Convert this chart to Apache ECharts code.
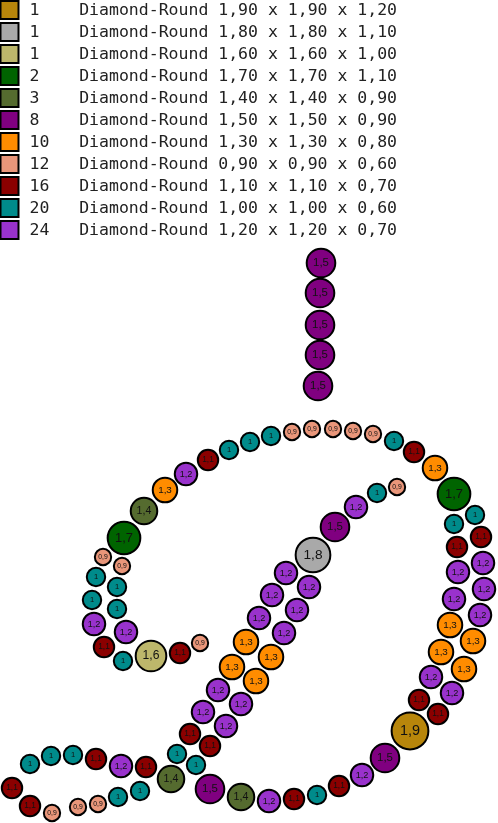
<!DOCTYPE html>
<html>
<head>
<meta charset="utf-8">
<title>Diamond-Round</title>
<style>
	html, body { margin: 0; padding: 0; background: #fff; }
	#bead-chart { width: 498px; height: 823px; }
</style>
<script src="https://cdn.jsdelivr.net/npm/echarts@6/dist/echarts.min.js"></script>
</head>
<body>
<div id="bead-chart"></div>
<script>
// legend rows
var legendCounts = [1, 1, 1, 2, 3, 8, 10, 12, 16, 20, 24];
var legendDiameters = [1.9, 1.8, 1.6, 1.7, 1.4, 1.5, 1.3, 0.9, 1.1, 1.0, 1.2];
var legendHeights = ['1,20', '1,10', '1,00', '1,10', '0,90', '0,90', '0,80', '0,60', '0,70', '0,60', '0,70'];
var legendColors = ['#B8860B', '#A9A9A9', '#BDB76B', '#006400', '#556B2F', '#800080', '#FF8C00', '#E9967A', '#8B0000', '#008B8B', '#9932CC'];
var stoneShape = 'Diamond-Round';

// stones in pixels
var d19x = [410];
var d19y = [731];
var d18x = [313];
var d18y = [555];
var d17x = [124, 454];
var d17y = [538, 494];
var d16x = [151];
var d16y = [656];
var d15x = [321, 320, 320, 320, 318, 335, 385, 210];
var d15y = [263, 293, 325, 355, 386, 527, 758, 789];
var d14x = [144, 171, 241];
var d14y = [511, 779, 797];
var d13x = [165, 435, 246, 271, 232, 256, 450, 473, 441, 464];
var d13y = [490, 468, 642, 657, 667, 681, 625, 641, 652, 669];
var d12x = [186, 483, 458, 484, 454, 480, 356, 286, 309, 272, 297, 259, 284, 431, 452, 362, 269, 226, 241, 218, 203, 121, 94, 126];
var d12y = [474, 563, 572, 589, 599, 615, 507, 573, 587, 595, 610, 618, 633, 677, 693, 775, 801, 726, 704, 690, 712, 766, 624, 632];
var d11x = [208, 414, 481, 457, 104, 180, 419, 438, 339, 294, 210, 190, 146, 96, 12, 30];
var d11y = [460, 452, 537, 547, 647, 653, 700, 714, 786, 799, 746, 734, 767, 759, 788, 806];
var d10x = [229, 250, 271, 394, 475, 454, 377, 96, 117, 92, 117, 123, 317, 196, 177, 73, 51, 30, 118, 140];
var d10y = [450, 442, 436, 441, 515, 524, 493, 577, 587, 600, 609, 661, 795, 765, 754, 755, 756, 764, 797, 791];
var d09x = [103, 122, 200, 52, 78, 98, 397, 292, 312, 333, 353, 373];
var d09y = [557, 566, 643, 813, 807, 804, 487, 432, 429, 429, 431, 434];

var stoneX = { 1.9: d19x, 1.8: d18x, 1.7: d17x, 1.6: d16x, 1.5: d15x, 1.4: d14x, 1.3: d13x, 1.2: d12x, 1.1: d11x, 1: d10x, 0.9: d09x };
var stoneY = { 1.9: d19y, 1.8: d18y, 1.7: d17y, 1.6: d16y, 1.5: d15y, 1.4: d14y, 1.3: d13y, 1.2: d12y, 1.1: d11y, 1: d10y, 0.9: d09y };

function commaNumber(d) {
	return d.toFixed(2).replace('.', ',');
}

function legendLine(i) {
	var count = String(legendCounts[i]);
	var size = commaNumber(legendDiameters[i]);
	return count + '    '.slice(count.length - 1) + stoneShape + ' ' + size + ' x ' + size + ' x ' + legendHeights[i];
}

var chartSeries = [];

// ---------------------------swatches and legend text-------------------------------
chartSeries.push({
	type: 'scatter',
	symbol: 'rect',
	symbolSize: 18,
	silent: true,
	itemStyle: {
		borderColor: '#000',
		borderWidth: 2,
		opacity: 1,
		color: function(p) { return legendColors[p.dataIndex]; }
	},
	label: {
		show: true,
		position: 'left',
		align: 'left',
		distance: -20,
		offset: [10, 1],
		fontFamily: '"DejaVu Sans Mono"',
		fontSize: 16.5,
		color: '#222',
		formatter: function(p) { return legendLine(p.dataIndex); }
	},
	data: legendCounts.map(function(c, i) { return [9.5, 10 + i * 22]; })
});

// ---------------------------stones-------------------------------
legendDiameters.forEach(function(d, i) {
	var xs = stoneX[d], ys = stoneY[d];
	chartSeries.push({
		name: String(d),
		type: 'scatter',
		symbol: 'circle',
		symbolSize: d * 20.4 - 2,
		silent: true,
		itemStyle: { color: legendColors[i], borderColor: '#000', borderWidth: 2, opacity: 1 },
		label: {
			show: true,
			position: 'inside',
			fontFamily: '"Liberation Sans"',
			fontSize: d * 7.6,
			color: '#111',
			formatter: String(d).replace('.', ',')
		},
		data: xs.map(function(x, j) { return [x, ys[j]]; })
	});
});

var beadChart = echarts.init(document.getElementById('bead-chart'));
beadChart.setOption({
	animation: false,
	grid: { left: 0, right: 0, top: 0, bottom: 0 },
	xAxis: { type: 'value', min: 0, max: 498, show: false },
	yAxis: { type: 'value', min: 0, max: 823, inverse: true, show: false },
	series: chartSeries
});
</script>
</body>
</html>
